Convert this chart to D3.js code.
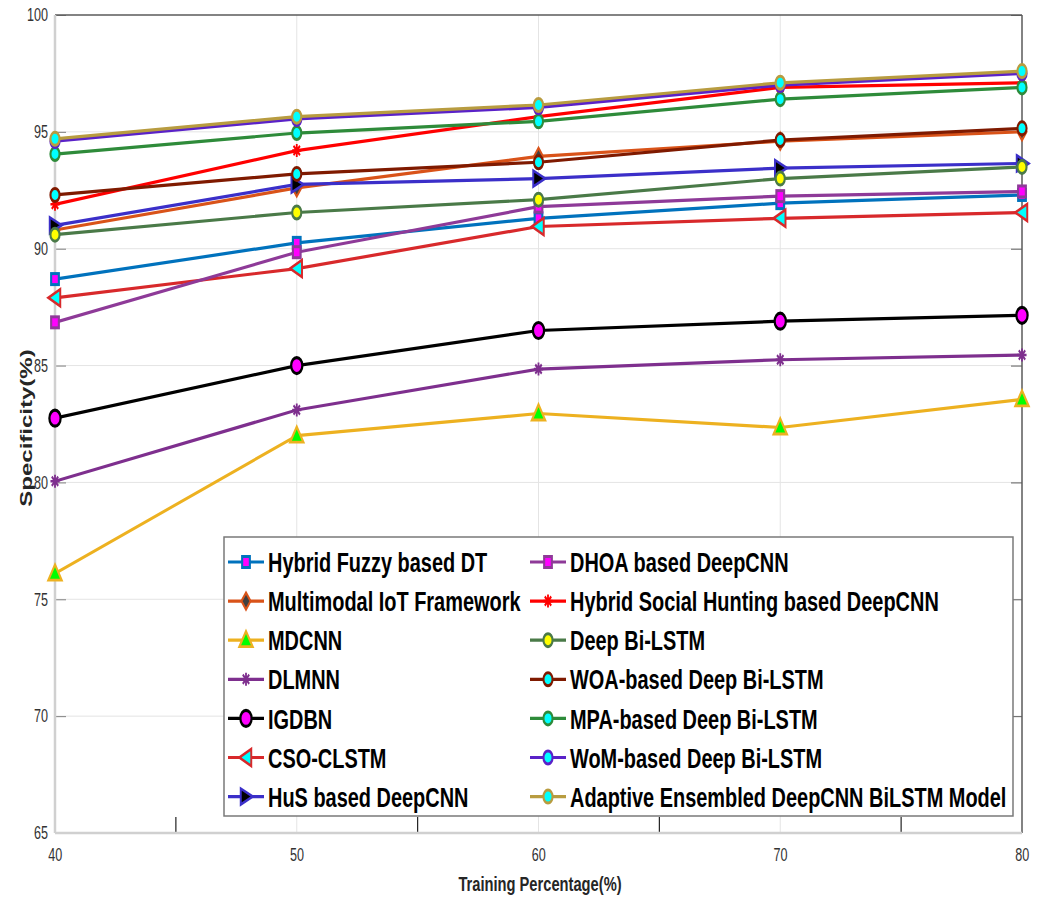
<!DOCTYPE html>
<html>
<head>
<meta charset="utf-8">
<script src="https://cdn.jsdelivr.net/npm/d3@7"></script>
<style>
  html, body { margin: 0; padding: 0; background: #fff; }
  svg { display: block; }
  text { font-family: "Liberation Sans", Arial, sans-serif; }
</style>
</head>
<body>
<svg id="chart" width="1037" height="899"></svg>
<script>
// ---------------- data ----------------
const trainingPct = [40, 50, 60, 70, 80];
const xTickLabels = [40, 50, 60, 70, 80];
const xMinorTicks = [45, 55, 65, 75];
const yTickLabels = [65, 70, 75, 80, 85, 90, 95, 100];

const seriesNames = [
  "Hybrid Fuzzy based DT",
  "Multimodal IoT Framework",
  "MDCNN",
  "DLMNN",
  "IGDBN",
  "CSO-CLSTM",
  "HuS based DeepCNN",
  "DHOA based DeepCNN",
  "Hybrid Social Hunting based DeepCNN",
  "Deep Bi-LSTM",
  "WOA-based Deep Bi-LSTM",
  "MPA-based Deep Bi-LSTM",
  "WoM-based Deep Bi-LSTM",
  "Adaptive Ensembled DeepCNN BiLSTM Model"
];

const hybridFuzzyDT   = [88.7, 90.25, 91.3, 91.95, 92.3];
const multimodalIoT   = [90.8, 92.6, 93.95, 94.6, 95.0];
const mdcnn           = [76.1, 82.0, 82.95, 82.35, 83.55];
const dlmnn           = [80.05, 83.1, 84.85, 85.25, 85.45];
const igdbn           = [82.75, 85.0, 86.5, 86.9, 87.15];
const csoClstm        = [87.9, 89.15, 90.95, 91.3, 91.55];
const husDeepCNN      = [91.0, 92.75, 93.0, 93.45, 93.65];
const dhoaDeepCNN     = [86.85, 89.85, 91.8, 92.25, 92.45];
const hshDeepCNN      = [91.9, 94.2, 95.65, 96.9, 97.1];
const deepBiLSTM      = [90.6, 91.55, 92.1, 93.0, 93.5];
const woaBiLSTM       = [92.3, 93.2, 93.7, 94.65, 95.15];
const mpaBiLSTM       = [94.05, 94.95, 95.45, 96.4, 96.9];
const womBiLSTM       = [94.6, 95.55, 96.05, 97.0, 97.5];
const adaptiveModel   = [94.7, 95.65, 96.15, 97.1, 97.6];

const seriesValues = [hybridFuzzyDT, multimodalIoT, mdcnn, dlmnn, igdbn, csoClstm, husDeepCNN,
  dhoaDeepCNN, hshDeepCNN, deepBiLSTM, woaBiLSTM, mpaBiLSTM, womBiLSTM, adaptiveModel];

// styles (line colour, marker type, marker fill)
const styles = [
  {c: "#0072BD", m: "square",  f: "#ff00ff"},
  {c: "#D95319", m: "diamond", f: "#404040"},
  {c: "#EDB120", m: "triUp",   f: "#00ff00"},
  {c: "#7E2F8E", m: "star",    f: "none"},
  {c: "#000000", m: "bigCircle", f: "#ff00ff"},
  {c: "#D8292B", m: "triLeft", f: "#00ffff"},
  {c: "#3B2FC9", m: "triRight",f: "#000000"},
  {c: "#8E3A98", m: "square",  f: "#ff00ff"},
  {c: "#FF0000", m: "star",    f: "none"},
  {c: "#4A7A48", m: "circle",  f: "#ffff00"},
  {c: "#7F1A00", m: "circle",  f: "#00ffff"},
  {c: "#2E8B3A", m: "circle",  f: "#00ffff"},
  {c: "#5A22C8", m: "circle",  f: "#00ffff"},
  {c: "#B89C40", m: "circle",  f: "#00ffff"}
];

// ---------------- layout ----------------
const S = 0.7; // horizontal compression of the whole figure
const plotLeft = 55, plotRight = 1022, plotTop = 15, plotBottom = 833;

const svg = d3.select("#chart");
const g = svg.append("g").attr("transform", `scale(${S},1)`);

const x = d3.scaleLinear().domain([40, 80]).range([plotLeft / S, plotRight / S]);
const y = d3.scaleLinear().domain([65, 100]).range([plotBottom, plotTop]);

// grid
g.append("g").selectAll("line").data(xTickLabels.filter(v => v > 40 && v < 80)).join("line")
  .attr("x1", d => x(d)).attr("x2", d => x(d)).attr("y1", plotTop).attr("y2", plotBottom)
  .attr("stroke", "#e4e4e4").attr("stroke-width", 1).attr("vector-effect", "non-scaling-stroke");
g.append("g").selectAll("line").data(yTickLabels.filter(v => v > 65 && v < 100)).join("line")
  .attr("x1", x(40)).attr("x2", x(80)).attr("y1", d => y(d)).attr("y2", d => y(d))
  .attr("stroke", "#e4e4e4").attr("stroke-width", 1).attr("vector-effect", "non-scaling-stroke");

// axes
const yAxis = d3.axisLeft(y).tickValues(yTickLabels).tickSizeInner(-11 / S).tickSizeOuter(0).tickPadding(7 / S);
const yg = g.append("g").attr("transform", `translate(${x(40)},0)`).call(yAxis);
yg.select(".domain").remove();
yg.selectAll(".tick line").attr("stroke", "#808080").attr("vector-effect", "non-scaling-stroke");
yg.selectAll(".tick text").attr("font-size", 18).attr("fill", "#333")
  .attr("font-family", "'Liberation Sans', Arial, sans-serif");

const yAxisR = d3.axisRight(y).tickValues(yTickLabels).tickSizeInner(-11 / S).tickSizeOuter(0).tickFormat("");
const yr = g.append("g").attr("transform", `translate(${x(80)},0)`).call(yAxisR);
yr.select(".domain").remove();
yr.selectAll(".tick line").attr("stroke", "#606060").attr("vector-effect", "non-scaling-stroke");

const xAxis = d3.axisBottom(x).tickValues(xTickLabels).tickSizeInner(0).tickSizeOuter(0).tickPadding(15.5);
const xg = g.append("g").attr("transform", `translate(0,${plotBottom})`).call(xAxis);
xg.select(".domain").remove();
xg.selectAll(".tick line").remove();
xg.selectAll(".tick text").attr("font-size", 18).attr("fill", "#333")
  .attr("font-family", "'Liberation Sans', Arial, sans-serif");

// minor ticks along the bottom
g.append("g").selectAll("line").data(xMinorTicks).join("line")
  .attr("x1", d => x(d)).attr("x2", d => x(d)).attr("y1", plotBottom).attr("y2", plotBottom - 16)
  .attr("stroke", "#222").attr("stroke-width", 1.2).attr("vector-effect", "non-scaling-stroke");

// box
g.append("line").attr("x1", x(40)).attr("x2", x(80)).attr("y1", plotTop).attr("y2", plotTop)
  .attr("stroke", "#5a5a5a").attr("stroke-width", 1.5).attr("vector-effect", "non-scaling-stroke");
g.append("line").attr("x1", x(80)).attr("x2", x(80)).attr("y1", plotTop).attr("y2", plotBottom)
  .attr("stroke", "#5a5a5a").attr("stroke-width", 1.5).attr("vector-effect", "non-scaling-stroke");
g.append("line").attr("x1", x(40)).attr("x2", x(40)).attr("y1", plotTop).attr("y2", plotBottom)
  .attr("stroke", "#d0d0d0").attr("stroke-width", 2.5).attr("vector-effect", "non-scaling-stroke");
g.append("line").attr("x1", x(40)).attr("x2", x(80)).attr("y1", plotBottom).attr("y2", plotBottom)
  .attr("stroke", "#d0d0d0").attr("stroke-width", 2.5).attr("vector-effect", "non-scaling-stroke");

// marker drawing
function drawMarker(sel, type, color, fill) {
  switch (type) {
    case "circle":
      sel.append("circle").attr("r", 6.5).attr("fill", fill).attr("stroke", color).attr("stroke-width", 3);
      break;
    case "bigCircle":
      sel.append("circle").attr("r", 8).attr("fill", fill).attr("stroke", color).attr("stroke-width", 3.2);
      break;
    case "square":
      sel.append("rect").attr("x", -5.5).attr("y", -5.5).attr("width", 11).attr("height", 11)
        .attr("fill", fill).attr("stroke", color).attr("stroke-width", 3);
      break;
    case "diamond":
      sel.append("path").attr("d", "M0,-8.5L6.5,0L0,8.5L-6.5,0Z")
        .attr("fill", fill).attr("stroke", color).attr("stroke-width", 2.6);
      break;
    case "triUp":
      sel.append("path").attr("d", "M0,-9L9.5,6.5L-9.5,6.5Z")
        .attr("fill", fill).attr("stroke", color).attr("stroke-width", 2.8);
      break;
    case "triLeft":
      sel.append("path").attr("d", "M-9.5,0L7.5,-8.5L7.5,8.5Z")
        .attr("fill", fill).attr("stroke", color).attr("stroke-width", 2.8);
      break;
    case "triRight":
      sel.append("path").attr("d", "M9.5,0L-7.5,-8L-7.5,8Z")
        .attr("fill", fill).attr("stroke", color).attr("stroke-width", 2.8);
      break;
    case "star":
      sel.append("path").attr("d", "M0,-6.5V6.5M-6.5,0H6.5M-4.6,-4.6L4.6,4.6M-4.6,4.6L4.6,-4.6")
        .attr("fill", "none").attr("stroke", color).attr("stroke-width", 2.6);
      break;
  }
}

// series
const line = d3.line().x(d => x(d.x)).y(d => y(d.v));
seriesValues.forEach((vals, i) => {
  const st = styles[i];
  const pts = trainingPct.map((xv, j) => ({x: xv, v: vals[j]}));
  const sg = g.append("g");
  sg.append("path").datum(pts).attr("d", line).attr("fill", "none")
    .attr("stroke", st.c).attr("stroke-width", 3.2).attr("stroke-linejoin", "round");
  pts.forEach(p => {
    const mg = sg.append("g").attr("transform", `translate(${x(p.x)},${y(p.v)})`);
    drawMarker(mg, st.m, st.c, st.f);
  });
});

// legend
const lg = g.append("g");
lg.append("rect").attr("x", 224 / S).attr("y", 537).attr("width", (1013 - 224) / S).attr("height", 816 - 537)
  .attr("fill", "#fff").attr("stroke", "#7a7a7a").attr("stroke-width", 1.5).attr("vector-effect", "non-scaling-stroke");
const colX = [228 / S, 530 / S];
const rowY0 = 562, rowDy = 39.1;
seriesNames.forEach((name, i) => {
  const col = i < 7 ? 0 : 1;
  const row = i % 7;
  const cy = rowY0 + row * rowDy;
  const x0 = colX[col];
  const st = styles[i];
  const eg = lg.append("g");
  eg.append("line").attr("x1", x0).attr("x2", x0 + 36 / S).attr("y1", cy).attr("y2", cy)
    .attr("stroke", st.c).attr("stroke-width", 3.2);
  const mg = eg.append("g").attr("transform", `translate(${x0 + 18 / S},${cy})`);
  drawMarker(mg, st.m, st.c, st.f);
  eg.append("text").attr("x", x0 + 40 / S).attr("y", cy + 10.2)
    .attr("font-size", 28.5).attr("font-weight", "bold").attr("fill", "#000").text(name);
});

// axis titles
g.append("text").attr("transform", `translate(${32 / S},428) rotate(-90)`)
  .attr("text-anchor", "middle").attr("font-size", 24).attr("font-weight", "bold").attr("fill", "#262626")
  .text("Specificity(%)");
g.append("text").attr("x", 540 / S).attr("y", 891)
  .attr("text-anchor", "middle").attr("font-size", 21).attr("font-weight", "bold").attr("fill", "#262626")
  .text("Training Percentage(%)");
</script>
</body>
</html>
